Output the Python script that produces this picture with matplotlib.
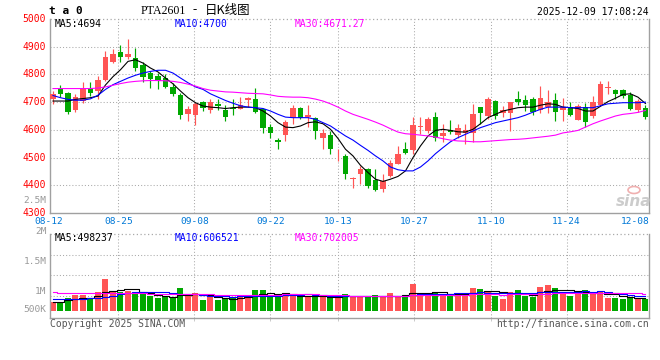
import matplotlib
matplotlib.use('Agg')
import matplotlib.pyplot as plt
from matplotlib.patches import Ellipse
import numpy as np

plt.rcParams['font.family'] = ['DejaVu Sans Mono', 'Noto Sans CJK SC']

# ---------------- data ----------------
opens = [4712,4749,4733,4672,4703,4750,4742,4780,4846,4881,
         4864,4860,4834,4804,4796,4786,4755,4726,4657,4655,
         4701,4672,4694,4672,4680,4676,4707,4710,4674,4611,
         4563,4580,4644,4680,4647,4644,4569,4581,4508,4507,
         4421,4440,4458,4420,4386,4434,4478,4532,4527,4610,
         4596,4647,4578,4599,4581,4587,4590,4683,4650,4704,
         4662,4660,4712,4708,4712,4670,4682,4708,4670,4682,
         4637,4682,4650,4688,4752,4745,4744,4726,4673,4679]
highs = [4740,4763,4735,4728,4772,4774,4795,4886,4890,4906,
         4928,4895,4846,4814,4806,4800,4770,4734,4686,4702,
         4703,4710,4710,4689,4710,4718,4719,4752,4680,4620,
         4572,4635,4689,4682,4690,4648,4602,4596,4530,4512,
         4430,4468,4464,4458,4442,4490,4542,4557,4646,4646,
         4646,4664,4622,4635,4622,4622,4694,4684,4718,4706,
         4686,4702,4741,4725,4718,4758,4745,4732,4716,4701,
         4693,4698,4722,4776,4778,4749,4749,4735,4710,4688]
lows = [4693,4718,4656,4665,4696,4722,4712,4778,4840,4846,
        4855,4814,4774,4750,4746,4750,4722,4640,4633,4618,
        4668,4660,4670,4632,4655,4674,4683,4662,4590,4572,
        4530,4560,4622,4640,4612,4566,4532,4512,4486,4422,
        4390,4406,4392,4378,4374,4430,4476,4512,4512,4584,
        4590,4560,4557,4584,4569,4548,4557,4622,4640,4638,
        4647,4595,4688,4667,4655,4660,4662,4631,4631,4650,
        4634,4610,4644,4686,4728,4712,4716,4673,4664,4638]
closes = [4728,4728,4666,4720,4747,4734,4780,4864,4874,4864,
          4874,4825,4792,4784,4778,4756,4730,4655,4675,4693,
          4678,4701,4687,4647,4677,4689,4716,4665,4605,4587,
          4556,4629,4680,4644,4655,4596,4587,4532,4511,4440,
          4425,4458,4398,4383,4414,4482,4512,4518,4619,4614,
          4640,4569,4590,4592,4608,4599,4658,4662,4710,4650,
          4672,4701,4699,4690,4665,4715,4700,4666,4684,4655,
          4685,4630,4702,4766,4754,4730,4722,4677,4703,4646]

ma5 = [4704,4704,4704,4710,4713,4716,4722,4762,4792,4817,
       4847,4853,4841,4823,4809,4787,4766,4740,4716,4698,
       4686,4682,4680,4677,4680,4682,4682,4680,4668,4650,
       4626,4610,4608,4614,4626,4629,4622,4602,4569,4530,
       4506,4472,4446,4422,4414,4422,4432,4452,4500,4542,
       4578,4598,4602,4598,4593,4592,4602,4622,4644,4656,
       4668,4674,4680,4682,4682,4689,4694,4692,4682,4680,
       4677,4668,4668,4685,4702,4714,4728,4730,4718,4695]
ma10 = [4724,4716,4710,4707,4707,4712,4725,4746,4763,4775,
        4787,4797,4805,4811,4815,4815,4805,4787,4770,4755,
        4746,4730,4718,4706,4696,4687,4682,4680,4677,4668,
        4656,4646,4644,4644,4644,4638,4626,4614,4596,4578,
        4563,4544,4526,4506,4488,4466,4456,4452,4452,4466,
        4488,4514,4536,4557,4572,4584,4596,4608,4617,4626,
        4632,4638,4644,4653,4664,4674,4682,4682,4682,4680,
        4680,4680,4680,4687,4694,4696,4698,4698,4698,4700]
ma30 = [4749,4749,4749,4749,4749,4749,4751,4755,4761,4767,
        4772,4775,4777,4778,4778,4777,4775,4771,4765,4758,
        4749,4743,4740,4737,4736,4734,4732,4731,4730,4726,
        4721,4719,4718,4718,4716,4711,4704,4694,4682,4668,
        4656,4647,4638,4628,4617,4604,4592,4586,4584,4581,
        4578,4574,4568,4563,4560,4559,4557,4557,4559,4561,
        4563,4565,4566,4568,4571,4574,4577,4581,4589,4593,
        4598,4610,4622,4632,4641,4650,4656,4659,4663,4670]

volumes_k = [365,324,514,636,636,527,757,1284,798,770,
             810,676,664,595,527,543,543,919,595,705,
             433,567,433,502,502,636,608,838,838,608,
             567,664,664,567,567,567,543,567,567,676,
             567,595,543,636,567,717,567,595,1081,705,
             636,757,676,636,595,717,919,879,810,608,
             474,757,838,608,567,960,1041,919,757,595,
             676,838,676,757,514,514,474,567,514,462]
vma5_k = [365,365,440,460,495,527,614,768,800,827,
          884,868,744,703,654,601,574,625,625,661,
          639,644,547,528,487,528,536,617,684,706,
          692,703,668,614,606,606,582,562,562,584,
          584,594,590,603,582,612,606,616,705,733,
          717,755,771,682,660,676,709,749,784,787,
          738,706,697,657,649,746,803,819,849,854,
          798,757,708,708,692,660,587,565,517,506]
vma10_k = [460,460,460,470,480,500,527,560,600,661,
           706,741,756,752,741,742,721,685,664,658,
           620,609,586,577,574,584,590,582,606,597,
           610,620,643,649,656,649,642,615,588,595,
           595,588,576,583,583,598,600,603,654,657,
           664,680,694,694,697,697,732,760,733,723,
           707,707,723,721,718,742,754,758,753,752,
           772,780,764,779,773,729,672,637,613,599]
vma30_k = [745,720,710,705,700,700,700,705,705,705,
           700,700,700,695,690,685,680,680,675,670,
           665,660,655,650,648,645,642,640,638,638,
           645,657,662,659,657,658,651,627,620,616,
           608,606,602,603,604,610,611,600,616,616,
           623,629,637,642,645,648,658,659,659,659,
           655,659,664,666,666,679,695,707,713,711,
           714,722,727,731,729,722,719,718,699,691]

price_ticks = [4300, 4400, 4500, 4600, 4700, 4800, 4900, 5000]
date_labels = ['08-12', '08-25', '09-08', '09-22', '10-13', '10-27', '11-10', '11-24', '12-08']
vol_tick_labels = ['2.5M', '2M', '1.5M', '1M', '500K']

title_code = 'PTA2601'
title_dash = '-'
title_cn = '日K线图'
timestamp = '2025-12-09 17:08:24'
ma_price_labels = ['MA5:4694', 'MA10:4700', 'MA30:4671.27']
ma_vol_labels = ['MA5:498237', 'MA10:606521', 'MA30:702005']

# ---------------- layout helpers ----------------
W, H = 660, 360
def fx(px): return px / W
def fy(py): return 1 - py / H

RED = '#ff5555'
GREEN = '#00a800'
BLUE = '#0000ff'
MAG = '#ff00ff'
GRID = '#aaaaaa'
BORDER = '#a0a0a0'
XLAB = '#0078d7'

fig = plt.figure(figsize=(6.6, 3.6), dpi=100, facecolor='white')
L, R = 50, 649
ax = fig.add_axes([fx(L), fy(213), (R - L) / W, (213 - 19) / H])
axv = fig.add_axes([fx(L), fy(318), (R - L) / W, (318 - 234.3) / H])

o = np.array(opens, float); c = np.array(closes, float)
hi = np.array(highs, float); lo = np.array(lows, float)
n = len(c)
x = np.arange(n)
cols = [RED if cc >= oo else GREEN for oo, cc in zip(o, c)]

# x positions of date gridlines (in candle-index units)
grid_x = [8.71, 18.84, 29.0, 38.04, 48.17, 58.37, 68.47]
xlim = (-0.4, 79.47)
def idx2px(i): return 53 + 7.5 * i

dot = (0, (1, 2))
for a in (ax, axv):
    a.set_xlim(*xlim)
    for gx in grid_x:
        a.axvline(gx, color=GRID, lw=0.75, ls=dot, zorder=0)
    for s in ('left', 'right', 'bottom'):
        a.spines[s].set_color(BORDER)
        a.spines[s].set_linewidth(1.0)
    a.spines['top'].set_visible(False)
    a.set_xticks([])

# ---- price panel ----
ax.set_ylim(4300, 5000)
for yv in price_ticks[1:-1]:
    ax.axhline(yv, color=GRID, lw=0.75, ls=dot, zorder=0)
ax.axhline(5000, color=GRID, lw=0.9, ls=dot, zorder=0, clip_on=False)

ax.vlines(x, lo, hi, colors=cols, lw=0.85, zorder=2)
body_bot = np.minimum(o, c)
body_h = np.maximum(np.abs(c - o), 2.6)
ax.bar(x, body_h, bottom=body_bot, width=0.78, color=cols, lw=0, zorder=3)
ax.plot(x, ma5, color='black', lw=0.8, zorder=4)
ax.plot(x, ma10, color=BLUE, lw=0.8, zorder=4)
ax.plot(x, ma30, color=MAG, lw=0.8, zorder=4)

ax.set_yticks(price_ticks)
ax.set_yticklabels([str(t) for t in price_ticks])
ax.tick_params(axis='y', length=0, pad=3.2, labelsize=7, labelcolor='#ff0000')
for lab in ax.get_yticklabels():
    lab.set_verticalalignment('center')

# ---- volume panel ----
vol = np.array(volumes_k, float) * 1000
axv.set_ylim(-296e3, 3094e3)
for yv in (2256e3, 1434e3, 608e3):
    axv.axhline(yv, color=GRID, lw=0.75, ls=dot, zorder=0)
axv.axhline(3094e3, color=GRID, lw=0.9, ls=dot, zorder=0, clip_on=False)
axv.bar(x, vol, width=0.8, color=cols, lw=0, zorder=2)
axv.plot(x, np.array(vma5_k) * 1000, color='black', lw=0.8, drawstyle='steps-mid', zorder=3)
axv.plot(x, np.array(vma10_k) * 1000, color=BLUE, lw=0.8, drawstyle='steps-mid', zorder=3)
axv.plot(x, np.array(vma30_k) * 1000, color=MAG, lw=0.8, drawstyle='steps-mid', zorder=3)
axv.set_yticks([])
axv.set_xticks(grid_x)
axv.set_xticklabels([])
axv.tick_params(axis='x', length=2.5, color='#c0c0c0', width=0.6)

# ---- x date labels ----
lab_px = [49] + [idx2px(g) for g in grid_x]
for i, lbl in enumerate(date_labels[:-1]):
    fig.text(fx(lab_px[i]), fy(221.5), lbl, ha='center', va='center', fontsize=6.8, color=XLAB)
fig.text(fx(649.5), fy(221.5), date_labels[-1], ha='right', va='center', fontsize=6.8, color=XLAB)

# ---- volume axis labels (as drawn by the source) ----
for lbl, py in zip(vol_tick_labels, [200.7, 231, 261, 291, 310]):
    fig.text(fx(46.5), fy(py), lbl, ha='right', va='center', fontsize=6.8, color='#999999')

# ---- header ----
fig.text(fx(49), fy(11.5), 't a 0', ha='left', va='center', fontsize=8, fontweight='bold', color='black')
fig.text(fx(140.5), fy(10.5), title_code, ha='left', va='center', fontsize=8.6,
         family=['Liberation Serif'], color='black')
fig.text(fx(195), fy(10.5), title_dash, ha='center', va='center', fontsize=9,
         family=['Liberation Serif'], color='black')
fig.text(fx(205), fy(10.5), title_cn, ha='left', va='center', fontsize=9,
         family=['Noto Sans CJK SC', 'DejaVu Sans'], color='black')
fig.text(fx(648.5), fy(12.3), timestamp, ha='right', va='center', fontsize=7, color='black')

for lbl, px, col in zip(ma_price_labels, [55, 174.5, 295], ['black', BLUE, MAG]):
    fig.text(fx(px), fy(24.3), lbl, ha='left', va='center', fontsize=7, color=col)
for lbl, px, col in zip(ma_vol_labels, [55, 175, 295], ['black', BLUE, MAG]):
    fig.text(fx(px), fy(238.3), lbl, ha='left', va='center', fontsize=7, color=col)

# ---- footer ----
fig.text(fx(50), fy(324), 'Copyright 2025 SINA.COM', ha='left', va='center', fontsize=7, color='#555555')
fig.text(fx(649), fy(324), 'http://finance.sina.com.cn', ha='right', va='center', fontsize=7, color='#555555')

# ---- sina watermark ----
fig.text(fx(634), fy(201), 'sina', ha='center', va='center', fontsize=11, style='italic',
         fontweight='bold', color='#cccccc', family='DejaVu Sans')
fig.patches.append(Ellipse((fx(634), fy(190)), 12 / W, 7 / H, transform=fig.transFigure,
                           facecolor='none', edgecolor='#f0b0b0', lw=1.2))

fig.savefig('out.png', dpi=100, facecolor='white')
